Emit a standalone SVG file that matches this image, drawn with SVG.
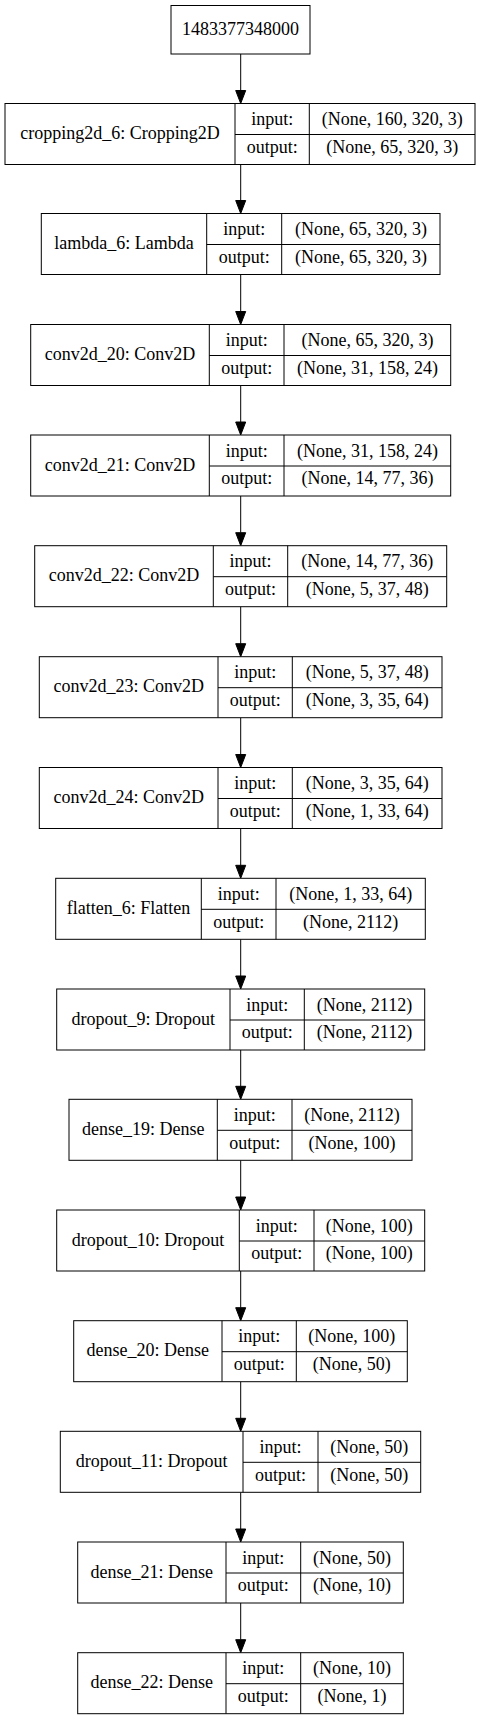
<svg xmlns="http://www.w3.org/2000/svg" width="481" height="1720" viewBox="0 0 481 1720">
<style>
rect.b{fill:#fff;stroke:#000;stroke-width:1}
line.d{stroke:#000;stroke-width:1}
text{font-family:"Liberation Serif","Times New Roman",serif;font-size:18px;text-anchor:middle;fill:#000}
.e line{stroke:#000;stroke-width:1}
.e polygon{fill:#000;stroke:#000;stroke-width:1}
</style>
<rect x="0" y="0" width="481" height="1720" fill="#fff"/>
<g class="e" id="edges">
<line x1="240.7" y1="54" x2="240.7" y2="90.5"/><polygon points="235.7,90.5 245.7,90.5 240.7,103.5"/>
<line x1="240.7" y1="164.5" x2="240.7" y2="200.5"/><polygon points="235.7,200.5 245.7,200.5 240.7,213.5"/>
<line x1="240.7" y1="274.5" x2="240.7" y2="311.5"/><polygon points="235.7,311.5 245.7,311.5 240.7,324.5"/>
<line x1="240.7" y1="385.5" x2="240.7" y2="422"/><polygon points="235.7,422 245.7,422 240.7,435"/>
<line x1="240.7" y1="496" x2="240.7" y2="532.7"/><polygon points="235.7,532.7 245.7,532.7 240.7,545.7"/>
<line x1="240.7" y1="606.7" x2="240.7" y2="643.7"/><polygon points="235.7,643.7 245.7,643.7 240.7,656.7"/>
<line x1="240.7" y1="717.7" x2="240.7" y2="754.5"/><polygon points="235.7,754.5 245.7,754.5 240.7,767.5"/>
<line x1="240.7" y1="828.5" x2="240.7" y2="865.3"/><polygon points="235.7,865.3 245.7,865.3 240.7,878.3"/>
<line x1="240.7" y1="939.3" x2="240.7" y2="976"/><polygon points="235.7,976 245.7,976 240.7,989"/>
<line x1="240.7" y1="1050" x2="240.7" y2="1086.3"/><polygon points="235.7,1086.3 245.7,1086.3 240.7,1099.3"/>
<line x1="240.7" y1="1160.3" x2="240.7" y2="1197"/><polygon points="235.7,1197 245.7,1197 240.7,1210"/>
<line x1="240.7" y1="1271" x2="240.7" y2="1307.7"/><polygon points="235.7,1307.7 245.7,1307.7 240.7,1320.7"/>
<line x1="240.7" y1="1381.7" x2="240.7" y2="1418.3"/><polygon points="235.7,1418.3 245.7,1418.3 240.7,1431.3"/>
<line x1="240.7" y1="1492.3" x2="240.7" y2="1529"/><polygon points="235.7,1529 245.7,1529 240.7,1542"/>
<line x1="240.7" y1="1603" x2="240.7" y2="1639.7"/><polygon points="235.7,1639.7 245.7,1639.7 240.7,1652.7"/>
</g>
<g id="n0">
<rect class="b" x="171" y="5.5" width="139" height="48.5"/>
<text x="240.5" y="35">1483377348000</text>
</g>
<g id="n1">
<rect class="b" x="5" y="103.5" width="470" height="61"/>
<line class="d" x1="235" y1="103.5" x2="235" y2="164.5"/><line class="d" x1="309.3" y1="103.5" x2="309.3" y2="164.5"/><line class="d" x1="235" y1="134.5" x2="475" y2="134.5"/>
<text x="120" y="139.2">cropping2d_6: Cropping2D</text>
<text x="272.2" y="125.2">input:</text><text x="272.2" y="152.9">output:</text>
<text x="392.2" y="125.2">(None, 160, 320, 3)</text><text x="392.2" y="152.9">(None, 65, 320, 3)</text>
</g>
<g id="n2">
<rect class="b" x="41.3" y="213.5" width="398.7" height="61"/>
<line class="d" x1="206.7" y1="213.5" x2="206.7" y2="274.5"/><line class="d" x1="281.7" y1="213.5" x2="281.7" y2="274.5"/><line class="d" x1="206.7" y1="244.5" x2="440" y2="244.5"/>
<text x="124" y="249.2">lambda_6: Lambda</text>
<text x="244.2" y="235.2">input:</text><text x="244.2" y="262.9">output:</text>
<text x="360.9" y="235.2">(None, 65, 320, 3)</text><text x="360.9" y="262.9">(None, 65, 320, 3)</text>
</g>
<g id="n3">
<rect class="b" x="30.7" y="324.5" width="420" height="61"/>
<line class="d" x1="209.3" y1="324.5" x2="209.3" y2="385.5"/><line class="d" x1="284" y1="324.5" x2="284" y2="385.5"/><line class="d" x1="209.3" y1="355.5" x2="450.7" y2="355.5"/>
<text x="120" y="360.2">conv2d_20: Conv2D</text>
<text x="246.7" y="346.2">input:</text><text x="246.7" y="373.9">output:</text>
<text x="367.4" y="346.2">(None, 65, 320, 3)</text><text x="367.4" y="373.9">(None, 31, 158, 24)</text>
</g>
<g id="n4">
<rect class="b" x="30.7" y="435" width="420" height="61"/>
<line class="d" x1="209.3" y1="435" x2="209.3" y2="496"/><line class="d" x1="284" y1="435" x2="284" y2="496"/><line class="d" x1="209.3" y1="466" x2="450.7" y2="466"/>
<text x="120" y="470.7">conv2d_21: Conv2D</text>
<text x="246.7" y="456.7">input:</text><text x="246.7" y="484.4">output:</text>
<text x="367.4" y="456.7">(None, 31, 158, 24)</text><text x="367.4" y="484.4">(None, 14, 77, 36)</text>
</g>
<g id="n5">
<rect class="b" x="34.7" y="545.7" width="412" height="61"/>
<line class="d" x1="213.3" y1="545.7" x2="213.3" y2="606.7"/><line class="d" x1="287.7" y1="545.7" x2="287.7" y2="606.7"/><line class="d" x1="213.3" y1="576.7" x2="446.7" y2="576.7"/>
<text x="124" y="581.4">conv2d_22: Conv2D</text>
<text x="250.5" y="567.4">input:</text><text x="250.5" y="595.1">output:</text>
<text x="367.2" y="567.4">(None, 14, 77, 36)</text><text x="367.2" y="595.1">(None, 5, 37, 48)</text>
</g>
<g id="n6">
<rect class="b" x="39.3" y="656.7" width="402.7" height="61"/>
<line class="d" x1="218" y1="656.7" x2="218" y2="717.7"/><line class="d" x1="292.3" y1="656.7" x2="292.3" y2="717.7"/><line class="d" x1="218" y1="687.7" x2="442" y2="687.7"/>
<text x="128.7" y="692.4">conv2d_23: Conv2D</text>
<text x="255.2" y="678.4">input:</text><text x="255.2" y="706.1">output:</text>
<text x="367.2" y="678.4">(None, 5, 37, 48)</text><text x="367.2" y="706.1">(None, 3, 35, 64)</text>
</g>
<g id="n7">
<rect class="b" x="39.3" y="767.5" width="402.7" height="61"/>
<line class="d" x1="218" y1="767.5" x2="218" y2="828.5"/><line class="d" x1="292.3" y1="767.5" x2="292.3" y2="828.5"/><line class="d" x1="218" y1="798.5" x2="442" y2="798.5"/>
<text x="128.7" y="803.2">conv2d_24: Conv2D</text>
<text x="255.2" y="789.2">input:</text><text x="255.2" y="816.9">output:</text>
<text x="367.2" y="789.2">(None, 3, 35, 64)</text><text x="367.2" y="816.9">(None, 1, 33, 64)</text>
</g>
<g id="n8">
<rect class="b" x="55.7" y="878.3" width="369.6" height="61"/>
<line class="d" x1="201.3" y1="878.3" x2="201.3" y2="939.3"/><line class="d" x1="276" y1="878.3" x2="276" y2="939.3"/><line class="d" x1="201.3" y1="909.3" x2="425.3" y2="909.3"/>
<text x="128.5" y="914">flatten_6: Flatten</text>
<text x="238.7" y="900">input:</text><text x="238.7" y="927.7">output:</text>
<text x="350.7" y="900">(None, 1, 33, 64)</text><text x="350.7" y="927.7">(None, 2112)</text>
</g>
<g id="n9">
<rect class="b" x="56.7" y="989" width="368" height="61"/>
<line class="d" x1="230" y1="989" x2="230" y2="1050"/><line class="d" x1="304.3" y1="989" x2="304.3" y2="1050"/><line class="d" x1="230" y1="1020" x2="424.7" y2="1020"/>
<text x="143.3" y="1024.7">dropout_9: Dropout</text>
<text x="267.2" y="1010.7">input:</text><text x="267.2" y="1038.4">output:</text>
<text x="364.5" y="1010.7">(None, 2112)</text><text x="364.5" y="1038.4">(None, 2112)</text>
</g>
<g id="n10">
<rect class="b" x="69" y="1099.3" width="343" height="61"/>
<line class="d" x1="217.3" y1="1099.3" x2="217.3" y2="1160.3"/><line class="d" x1="292" y1="1099.3" x2="292" y2="1160.3"/><line class="d" x1="217.3" y1="1130.3" x2="412" y2="1130.3"/>
<text x="143.2" y="1135">dense_19: Dense</text>
<text x="254.7" y="1121">input:</text><text x="254.7" y="1148.7">output:</text>
<text x="352" y="1121">(None, 2112)</text><text x="352" y="1148.7">(None, 100)</text>
</g>
<g id="n11">
<rect class="b" x="56.7" y="1210" width="368" height="61"/>
<line class="d" x1="239.3" y1="1210" x2="239.3" y2="1271"/><line class="d" x1="314" y1="1210" x2="314" y2="1271"/><line class="d" x1="239.3" y1="1241" x2="424.7" y2="1241"/>
<text x="148" y="1245.7">dropout_10: Dropout</text>
<text x="276.7" y="1231.7">input:</text><text x="276.7" y="1259.4">output:</text>
<text x="369.3" y="1231.7">(None, 100)</text><text x="369.3" y="1259.4">(None, 100)</text>
</g>
<g id="n12">
<rect class="b" x="73.7" y="1320.7" width="333.6" height="61"/>
<line class="d" x1="222" y1="1320.7" x2="222" y2="1381.7"/><line class="d" x1="296.3" y1="1320.7" x2="296.3" y2="1381.7"/><line class="d" x1="222" y1="1351.7" x2="407.3" y2="1351.7"/>
<text x="147.8" y="1356.4">dense_20: Dense</text>
<text x="259.2" y="1342.4">input:</text><text x="259.2" y="1370.1">output:</text>
<text x="351.8" y="1342.4">(None, 100)</text><text x="351.8" y="1370.1">(None, 50)</text>
</g>
<g id="n13">
<rect class="b" x="60.3" y="1431.3" width="360.4" height="61"/>
<line class="d" x1="243" y1="1431.3" x2="243" y2="1492.3"/><line class="d" x1="318" y1="1431.3" x2="318" y2="1492.3"/><line class="d" x1="243" y1="1462.3" x2="420.7" y2="1462.3"/>
<text x="151.7" y="1467">dropout_11: Dropout</text>
<text x="280.5" y="1453">input:</text><text x="280.5" y="1480.7">output:</text>
<text x="369.3" y="1453">(None, 50)</text><text x="369.3" y="1480.7">(None, 50)</text>
</g>
<g id="n14">
<rect class="b" x="77.7" y="1542" width="325.6" height="61"/>
<line class="d" x1="226" y1="1542" x2="226" y2="1603"/><line class="d" x1="300.7" y1="1542" x2="300.7" y2="1603"/><line class="d" x1="226" y1="1573" x2="403.3" y2="1573"/>
<text x="151.8" y="1577.7">dense_21: Dense</text>
<text x="263.3" y="1563.7">input:</text><text x="263.3" y="1591.4">output:</text>
<text x="352" y="1563.7">(None, 50)</text><text x="352" y="1591.4">(None, 10)</text>
</g>
<g id="n15">
<rect class="b" x="77.7" y="1652.7" width="325.6" height="61"/>
<line class="d" x1="226" y1="1652.7" x2="226" y2="1713.7"/><line class="d" x1="300.7" y1="1652.7" x2="300.7" y2="1713.7"/><line class="d" x1="226" y1="1683.7" x2="403.3" y2="1683.7"/>
<text x="151.8" y="1688.4">dense_22: Dense</text>
<text x="263.3" y="1674.4">input:</text><text x="263.3" y="1702.1">output:</text>
<text x="352" y="1674.4">(None, 10)</text><text x="352" y="1702.1">(None, 1)</text>
</g>
</svg>
